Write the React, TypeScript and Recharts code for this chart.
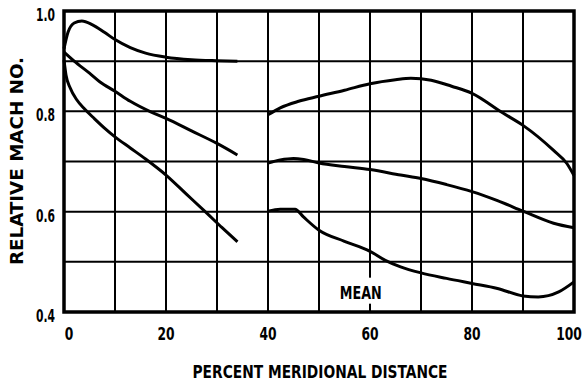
import { LineChart, Line, XAxis, YAxis, CartesianGrid, ReferenceArea, ReferenceDot, Label } from 'recharts'

const FONT = "'Liberation Sans Narrow', 'DejaVu Sans Condensed', 'Arial Narrow', sans-serif"

const xTicks = [0, 10, 20, 30, 40, 50, 60, 70, 80, 90, 100]
const yTicks = [0.4, 0.5, 0.6, 0.7, 0.8, 0.9, 1.0]

// left group (0-34 %)
const topLeftX = [0, 0.8, 2, 3.5, 5.5, 8, 10, 13, 16, 20, 25, 30, 34]
const topLeftY = [0.925, 0.958, 0.976, 0.98, 0.973, 0.957, 0.943, 0.927, 0.916, 0.908, 0.903, 0.901, 0.9]

const midLeftX = [0, 2, 5, 7, 10, 13, 17, 20, 25, 30, 34]
const midLeftY = [0.918, 0.9, 0.876, 0.859, 0.84, 0.82, 0.799, 0.786, 0.761, 0.736, 0.713]

const lowLeftX = [0, 0.4, 1.2, 2.5, 4, 6, 8, 10, 13, 16, 20, 24, 28, 31, 34]
const lowLeftY = [0.902, 0.872, 0.847, 0.823, 0.805, 0.785, 0.766, 0.749, 0.727, 0.705, 0.673, 0.635, 0.597, 0.568, 0.54]

// right group (40-100 %)
const topRightX = [40, 42.4, 46, 50, 55, 60, 65, 68, 72, 76, 80, 86, 90, 96, 98.6, 100]
const topRightY = [0.793, 0.807, 0.82, 0.83, 0.842, 0.855, 0.863, 0.866, 0.862, 0.85, 0.836, 0.797, 0.772, 0.722, 0.696, 0.672]

const midRightX = [40, 42.4, 45, 47, 50, 55, 60, 66, 70, 75, 80, 85, 90, 96, 100]
const midRightY = [0.697, 0.703, 0.706, 0.704, 0.697, 0.69, 0.684, 0.673, 0.666, 0.654, 0.64, 0.622, 0.601, 0.577, 0.568]

const meanX = [40, 42.4, 45.3, 46.9, 50, 55, 60, 63, 66, 70, 75, 80, 85, 90, 93, 97, 100]
const meanY = [0.601, 0.605, 0.605, 0.59, 0.563, 0.541, 0.521, 0.503, 0.49, 0.478, 0.467, 0.457, 0.447, 0.432, 0.43, 0.44, 0.46]

const toPoints = (xs: number[], ys: number[]) => xs.map((x, i) => ({ x, y: ys[i] }))

const curves = [
  toPoints(topLeftX, topLeftY),
  toPoints(midLeftX, midLeftY),
  toPoints(lowLeftX, lowLeftY),
  toPoints(topRightX, topRightY),
  toPoints(midRightX, midRightY),
  toPoints(meanX, meanY),
]

const textStyle = { fontFamily: FONT, fontWeight: 700, fontSize: 18, fill: '#000' }

// condensed look: squeeze glyphs horizontally
const XTick = ({ x, y, payload }: any) => {
  const v = payload.value
  if (v % 20 !== 0) return <g />
  const shift = v === 0 ? 5 : v === 100 ? -5 : 0
  return (
    <g transform={`translate(${x + shift}, ${y + 28}) scale(0.76, 1)`}>
      <text x={0} y={0} textAnchor="middle" style={textStyle}>
        {v}
      </text>
    </g>
  )
}

const YTick = ({ x, y, payload }: any) => {
  const v = payload.value
  if (Math.round(v * 10) % 2 !== 0) return <g />
  return (
    <text x={x} y={y + 10} textAnchor="end" textLength={19} lengthAdjust="spacingAndGlyphs" style={textStyle}>
      {v.toFixed(1)}
    </text>
  )
}

const MeanLabel = ({ cx, cy }: any) => (
  <g>
    <rect x={cx - 24} y={cy - 14} width={48} height={26} fill="#fff" />
    <text x={cx} y={cy + 7} textAnchor="middle" textLength={42} lengthAdjust="spacingAndGlyphs" style={textStyle}>
      MEAN
    </text>
  </g>
)

export default function App() {
  return (
    <div style={{ position: 'absolute', left: 0, top: 0, background: '#fff' }}>
      <LineChart width={585} height={383} margin={{ top: 11, right: 11, bottom: 11, left: 24 }}>
        <CartesianGrid stroke="#000" strokeWidth={2} />
        <XAxis
          type="number"
          dataKey="x"
          domain={[0, 100]}
          ticks={xTicks}
          interval={0}
          axisLine={false}
          tickLine={false}
          tickSize={0}
          tickMargin={0}
          height={60}
          tick={<XTick />}
        >
          <Label
            content={() => (
              <text x={320} y={378} textAnchor="middle" textLength={255} lengthAdjust="spacingAndGlyphs" style={textStyle}>
                PERCENT MERIDIONAL DISTANCE
              </text>
            )}
          />
        </XAxis>
        <YAxis
          type="number"
          domain={[0.4, 1.0]}
          ticks={yTicks}
          interval={0}
          axisLine={false}
          tickLine={false}
          tickSize={0}
          tickMargin={9}
          width={40}
          tick={<YTick />}
        >
          <Label
            content={() => (
              <text
                x={23}
                y={161}
                transform="rotate(-90, 23, 161)"
                textAnchor="middle"
                textLength={208}
                lengthAdjust="spacingAndGlyphs"
                style={textStyle}
              >
                RELATIVE MACH NO.
              </text>
            )}
          />
        </YAxis>
        <ReferenceArea x1={0} x2={100} y1={0.4} y2={1.0} fill="none" stroke="#000" strokeWidth={3.5} fillOpacity={0} />
        <ReferenceDot x={58.2} y={0.4405} r={0} shape={<MeanLabel />} />
        {curves.map((pts, i) => (
          <Line
            key={i}
            data={pts}
            dataKey="y"
            type="monotone"
            stroke="#000"
            strokeWidth={3}
            dot={false}
            activeDot={false}
            isAnimationActive={false}
          />
        ))}
      </LineChart>
    </div>
  )
}
